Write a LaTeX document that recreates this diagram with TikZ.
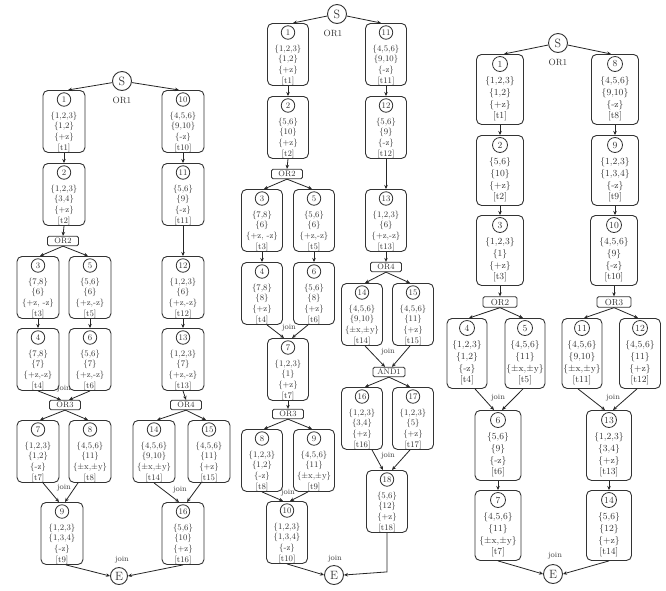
\documentclass[tikz,border=0pt]{standalone}
\usetikzlibrary{arrows.meta}
\tikzset{
 tb/.style={draw=black!80, line width=0.9pt, rounded corners=5pt, inner sep=0pt},
 num/.style={circle, draw=black!80, line width=0.8pt, minimum size=13.5pt, inner sep=0pt, font=\fontsize{8.5}{10}\selectfont, text=black!80},
 tx/.style={align=center, inner sep=0pt, font=\fontsize{8.5}{10.7}\selectfont, text=black!80},
 orbox/.style={draw=black!80, line width=0.8pt, rounded corners=1.5pt, minimum width=31pt, minimum height=9.5pt, inner sep=0pt, font=\fontsize{8}{9}\selectfont, text=black!80},
 se/.style={circle, draw=black!80, line width=0.9pt, minimum size=19pt, inner sep=0pt, font=\fontsize{12}{12}\selectfont, text=black!80},
 lbl/.style={inner sep=0pt, font=\fontsize{8}{9}\selectfont, text=black!75},
 orlbl/.style={inner sep=0pt, font=\fontsize{9}{10}\selectfont, text=black!80},
 arr/.style={draw=black!85, line width=0.8pt, -{Stealth[length=4pt,width=3.5pt]}},
}
\def\BoxH{62}\def\NumOff{9.5}\def\TxtOff{21.5}
\newcommand\trbox[9]{%
  \node[tb, anchor=north, minimum width=#9pt, minimum height=\BoxH pt] (#1) at (#2,#3) {};
  \node[num] (#1n) at ([yshift=-\NumOff pt]#1.north) {#4};
  \node[tx, anchor=north] (#1t) at ([yshift=-\TxtOff pt]#1.north) {#5\\\relax #6\\\relax #7\\\relax #8};
}
\begin{document}
\begin{tikzpicture}[x=1pt,y=-1pt]
\useasboundingbox (0,0) rectangle (666,590);
\fill[white] (0,0) rectangle (666,590);

% ================= LEFT TREE =================
\node[se] (SL) at (122,81) {S};
\node[orlbl] (SLl) at (122,100) {OR1};
\trbox{L1}{64}{90}{1}{\{1,2,3\}}{\{1,2\}}{\{+z\}}{[t1]}{42}
\trbox{L10}{183}{90}{10}{\{4,5,6\}}{\{9,10\}}{\{-z\}}{[t10]}{42}
\trbox{L2}{64}{163}{2}{\{1,2,3\}}{\{3,4\}}{\{+z\}}{[t2]}{42}
\trbox{L11}{183}{163}{11}{\{5,6\}}{\{9\}}{\{-z\}}{[t11]}{42}
\node[orbox] (OR2L) at (63,241) {OR2};
\trbox{L3}{38}{256}{3}{\{7,8\}}{\{6\}}{\{+z, -z\}}{[t3]}{42}
\trbox{L5}{90}{256}{5}{\{5,6\}}{\{6\}}{\{+z,-z\}}{[t5]}{42}
\trbox{L12}{183}{256}{12}{\{1,2,3\}}{\{6\}}{\{+z,-z\}}{[t12]}{42}
\trbox{L4}{38}{328}{4}{\{7,8\}}{\{7\}}{\{+z,-z\}}{[t4]}{42}
\trbox{L6}{90}{328}{6}{\{5,6\}}{\{7\}}{\{+z,-z\}}{[t6]}{42}
\trbox{L13}{183}{328}{13}{\{1,2,3\}}{\{7\}}{\{+z,-z\}}{[t13]}{42}
\node[lbl] (jL1) at (64,389) {join};
\node[orbox] (OR3L) at (65,405) {OR3};
\node[orbox] (OR4L) at (186,405) {OR4};
\trbox{L7}{38}{420}{7}{\{1,2,3\}}{\{1,2\}}{\{-z\}}{[t7]}{42}
\trbox{L8}{90}{420}{8}{\{4,5,6\}}{\{11\}}{\{±x,±y\}}{[t8]}{42}
\trbox{L14}{154}{420}{14}{\{4,5,6\}}{\{9,10\}}{\{±x,±y\}}{[t14]}{42}
\trbox{L15}{209}{420}{15}{\{4,5,6\}}{\{11\}}{\{+z\}}{[t15]}{42}
\node[lbl] (jL2) at (64,488) {join};
\node[lbl] (jL3) at (180,490) {join};
\trbox{L9}{62}{502}{9}{\{1,2,3\}}{\{1,3,4\}}{\{-z\}}{[t9]}{42}
\trbox{L16}{183}{502}{16}{\{5,6\}}{\{10\}}{\{+z\}}{[t16]}{42}
\node[lbl] (jL4) at (122,560) {join};
\node[se, minimum size=17pt] (EL) at (119,576) {E};

\draw[arr] (SL) -- ([xshift=4pt]L1.north);
\draw[arr] (SL) -- ([xshift=-4pt]L10.north);
\draw[arr] (L1.south) -- (L2.north);
\draw[arr] (L10.south) -- (L11.north);
\draw[arr] (L2.south) -- (OR2L.north);
\draw[arr] (OR2L.south) -- ([xshift=2pt]L3.north);
\draw[arr] (OR2L.south) -- ([xshift=-2pt]L5.north);
\draw[arr] (L11.south) -- (L12.north);
\draw[arr] (L3.south) -- (L4.north);
\draw[arr] (L5.south) -- (L6.north);
\draw[arr] (L12.south) -- (L13.north);
\draw[arr] (L4.south) -- ([xshift=-4pt]OR3L.north);
\draw[arr] (L6.south) -- ([xshift=4pt]OR3L.north);
\draw[arr] (L13.south) -- (OR4L.north);
\draw[arr] (OR3L.south) -- ([xshift=2pt]L7.north);
\draw[arr] (OR3L.south) -- ([xshift=-2pt]L8.north);
\draw[arr] (OR4L.south) -- ([xshift=3pt]L14.north);
\draw[arr] (OR4L.south) -- ([xshift=-3pt]L15.north);
\draw[arr] ([xshift=5pt]L7.south) -- ([xshift=-3pt]L9.north);
\draw[arr] ([xshift=-12pt]L8.south) -- ([xshift=3pt]L9.north);
\draw[arr] (L14.south) -- ([xshift=-4pt]L16.north);
\draw[arr] ([xshift=-8pt]L15.south) -- ([xshift=4pt]L16.north);
\draw[arr] ([xshift=4pt]L9.south) -- (EL.west);
\draw[arr] (L16.south) -- (EL.east);

% ================= MIDDLE TREE =================
\node[se] (SM) at (337,14) {S};
\node[orlbl] (SMl) at (333,33) {OR1};
\trbox{M1}{288}{23}{1}{\{1,2,3\}}{\{1,2\}}{\{+z\}}{[t1]}{41}
\trbox{M11}{386}{23}{11}{\{4,5,6\}}{\{9,10\}}{\{-z\}}{[t11]}{41}
\trbox{M2}{288}{96}{2}{\{5,6\}}{\{10\}}{\{+z\}}{[t2]}{41}
\trbox{M12}{386}{96}{12}{\{5,6\}}{\{9\}}{\{-z\}}{[t12]}{41}
\node[orbox] (OR2M) at (287,174) {OR2};
\trbox{M3}{262}{189}{3}{\{7,8\}}{\{6\}}{\{+z, -z\}}{[t3]}{41}
\trbox{M5}{314}{189}{5}{\{5,6\}}{\{6\}}{\{+z,-z\}}{[t5]}{41}
\trbox{M13}{386}{189}{13}{\{1,2,3\}}{\{6\}}{\{+z,-z\}}{[t13]}{41}
\trbox{M4}{262}{262}{4}{\{7,8\}}{\{8\}}{\{+z\}}{[t4]}{41}
\trbox{M6}{314}{262}{6}{\{5,6\}}{\{8\}}{\{+z\}}{[t6]}{41}
\node[orbox] (OR4M) at (386,267) {OR4};
\trbox{M14}{362}{283}{14}{\{4,5,6\}}{\{9,10\}}{\{±x,±y\}}{[t14]}{41}
\trbox{M15}{413}{283}{15}{\{4,5,6\}}{\{11\}}{\{+z\}}{[t15]}{41}
\node[lbl] (jM1) at (289,328) {join};
\trbox{M7}{288}{338}{7}{\{1,2,3\}}{\{1\}}{\{+z\}}{[t7]}{41}
\node[lbl] (jM2) at (388,352) {join};
\node[orbox, minimum width=32pt] (AND1) at (389,372) {AND1};
\trbox{M16}{362}{387}{16}{\{1,2,3\}}{\{3,4\}}{\{+z\}}{[t16]}{41}
\trbox{M17}{413}{387}{17}{\{1,2,3\}}{\{5\}}{\{+z\}}{[t17]}{41}
\node[orbox] (OR3M) at (288,414) {OR3};
\trbox{M8}{262}{429}{8}{\{1,2,3\}}{\{1,2\}}{\{-z\}}{[t8]}{41}
\trbox{M9}{314}{429}{9}{\{4,5,6\}}{\{11\}}{\{±x,±y\}}{[t9]}{41}
\node[lbl] (jM3) at (388,456) {join};
\trbox{M18}{387}{470}{18}{\{5,6\}}{\{12\}}{\{+z\}}{[t18]}{41}
\node[lbl] (jM4) at (288,493) {join};
\trbox{M10}{287}{501}{10}{\{1,2,3\}}{\{1,3,4\}}{\{-z\}}{[t10]}{41}
\node[lbl] (jM5) at (335,559) {join};
\node[se] (EM) at (334,575) {E};

\draw[arr] (SM) -- ([xshift=5pt]M1.north);
\draw[arr] (SM) -- ([xshift=-5pt]M11.north);
\draw[arr] (M1.south) -- (M2.north);
\draw[arr] (M11.south) -- (M12.north);
\draw[arr] (M2.south) -- (OR2M.north);
\draw[arr] (OR2M.south) -- ([xshift=2pt]M3.north);
\draw[arr] (OR2M.south) -- ([xshift=-2pt]M5.north);
\draw[arr] (M12.south) -- (M13.north);
\draw[arr] (M3.south) -- (M4.north);
\draw[arr] (M5.south) -- (M6.north);
\draw[arr] (M13.south) -- (OR4M.north);
\draw[arr] (OR4M.south) -- ([xshift=3pt]M14.north);
\draw[arr] (OR4M.south) -- ([xshift=-3pt]M15.north);
\draw[arr] ([xshift=5pt]M4.south) -- ([xshift=-4pt]M7.north);
\draw[arr] ([xshift=-6pt]M6.south) -- ([xshift=4pt]M7.north);
\draw[arr] (M7.south) -- (OR3M.north);
\draw[arr] (OR3M.south) -- ([xshift=2pt]M8.north);
\draw[arr] (OR3M.south) -- ([xshift=-2pt]M9.north);
\draw[arr] ([xshift=3pt]M14.south) -- ([xshift=-4pt]AND1.north);
\draw[arr] ([xshift=-3pt]M15.south) -- ([xshift=3pt]AND1.north);
\draw[arr] (AND1.south) -- ([xshift=3pt]M16.north);
\draw[arr] (AND1.south) -- ([xshift=-3pt]M17.north);
\draw[arr] ([xshift=10pt]M16.south) -- ([xshift=-4pt]M18.north);
\draw[arr] ([xshift=-3pt]M17.south) -- ([xshift=5pt]M18.north);
\draw[arr] (M8.south) -- ([xshift=-4pt]M10.north);
\draw[arr] ([xshift=-6pt]M9.south) -- ([xshift=3pt]M10.north);
\draw[arr] (M10.south) -- (EM.west);
\draw[arr] (M18.south) -- ([yshift=-39pt]M18.south) -- (EM.east);

% ================= RIGHT TREE =================
\def\BoxH{70}\def\NumOff{10}\def\TxtOff{22.5}
\tikzset{
 num/.append style={minimum size=15pt, font=\fontsize{9.3}{11}\selectfont},
 tx/.append style={font=\fontsize{9.3}{11.7}\selectfont},
 orbox/.append style={minimum width=34pt, minimum height=10.5pt, font=\fontsize{8.8}{10}\selectfont},
}
\node[se] (SR) at (558,43) {S};
\node[orlbl] (SRl) at (558,62) {OR1};
\trbox{R1}{500}{54}{1}{\{1,2,3\}}{\{1,2\}}{\{+z\}}{[t1]}{47}
\trbox{R8}{615}{54}{8}{\{4,5,6\}}{\{9,10\}}{\{-z\}}{[t8]}{47}
\trbox{R2}{500}{135}{2}{\{5,6\}}{\{10\}}{\{+z\}}{[t2]}{47}
\trbox{R9}{615}{135}{9}{\{1,2,3\}}{\{1,3,4\}}{\{-z\}}{[t9]}{47}
\trbox{R3}{500}{215}{3}{\{1,2,3\}}{\{1\}}{\{+z\}}{[t3]}{47}
\trbox{R10}{614}{215}{10}{\{4,5,6\}}{\{9\}}{\{-z\}}{[t10]}{47}
\node[orbox] (OR2R) at (500,302) {OR2};
\node[orbox] (OR3R) at (614,302) {OR3};
\trbox{R4}{467}{318}{4}{\{1,2,3\}}{\{1,2\}}{\{-z\}}{[t4]}{40}
\trbox{R5}{525}{318}{5}{\{4,5,6\}}{\{11\}}{\{±x,±y\}}{[t5]}{40}
\trbox{R11}{582}{318}{11}{\{4,5,6\}}{\{9,10\}}{\{±x,±y\}}{[t11]}{40}
\trbox{R12}{640}{318}{12}{\{4,5,6\}}{\{11\}}{\{+z\}}{[t12]}{41}
\node[lbl] (jR1) at (498,398) {join};
\node[lbl] (jR2) at (613,398) {join};
\trbox{R6}{498}{410}{6}{\{5,6\}}{\{9\}}{\{-z\}}{[t6]}{46}
\trbox{R13}{609}{410}{13}{\{1,2,3\}}{\{3,4\}}{\{+z\}}{[t13]}{45}
\trbox{R7}{498}{490}{7}{\{4,5,6\}}{\{11\}}{\{±x,±y\}}{[t7]}{46}
\trbox{R14}{609}{490}{14}{\{5,6\}}{\{12\}}{\{+z\}}{[t14]}{45}
\node[lbl] (jR3) at (555,556) {join};
\node[se] (ER) at (553,574) {E};

\draw[arr] (SR) -- ([xshift=4pt]R1.north);
\draw[arr] (SR) -- ([xshift=-4pt]R8.north);
\draw[arr] (R1.south) -- (R2.north);
\draw[arr] (R2.south) -- (R3.north);
\draw[arr] (R3.south) -- (OR2R.north);
\draw[arr] (R8.south) -- (R9.north);
\draw[arr] (R9.south) -- ([xshift=1pt]R10.north);
\draw[arr] (R10.south) -- (OR3R.north);
\draw[arr] (OR2R.south) -- ([xshift=2pt]R4.north);
\draw[arr] (OR2R.south) -- ([xshift=-2pt]R5.north);
\draw[arr] (OR3R.south) -- ([xshift=2pt]R11.north);
\draw[arr] (OR3R.south) -- ([xshift=-2pt]R12.north);
\draw[arr] ([xshift=8pt]R4.south) -- ([xshift=-4pt]R6.north);
\draw[arr] ([xshift=-2pt]R5.south) -- ([xshift=4pt]R6.north);
\draw[arr] ([xshift=-4pt]R11.south) -- ([xshift=-4pt]R13.north);
\draw[arr] ([xshift=-3pt]R12.south) -- ([xshift=4pt]R13.north);
\draw[arr] (R6.south) -- (R7.north);
\draw[arr] (R13.south) -- (R14.north);
\draw[arr] (R7.south) -- (ER.west);
\draw[arr] (R14.south) -- (ER.east);
\end{tikzpicture}
\end{document}
